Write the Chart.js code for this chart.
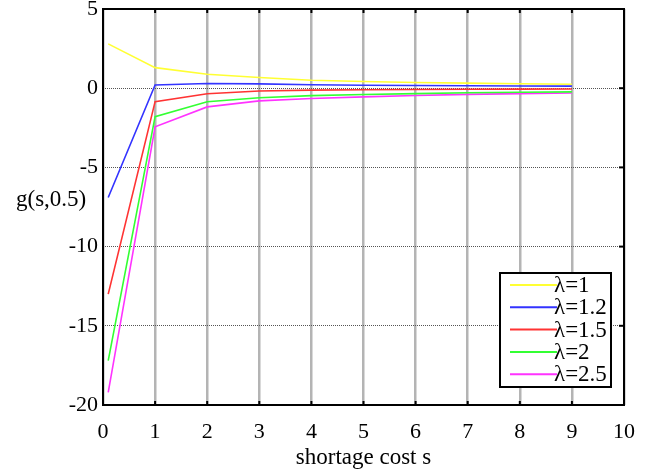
<!DOCTYPE html>
<html><head><meta charset="utf-8">
<script src="https://cdn.jsdelivr.net/npm/chart.js@4"></script>
<style>html,body{margin:0;padding:0;background:#fff}#wrap{width:655px;height:472px}</style>
</head><body><div id="wrap"><canvas id="c" width="655" height="472"></canvas></div>
<script>
const sValues = [0.1, 1, 2, 3, 4, 5, 6, 7, 8, 9];
const seriesLabels = ['λ=1', 'λ=1.2', 'λ=1.5', 'λ=2', 'λ=2.5'];
const g_l1   = [2.8, 1.3, 0.88, 0.68, 0.5, 0.42, 0.36, 0.32, 0.28, 0.25];
const g_l12  = [-6.9, 0.2, 0.3, 0.27, 0.22, 0.19, 0.17, 0.15, 0.14, 0.13];
const g_l15  = [-13.0, -0.85, -0.35, -0.18, -0.12, -0.1, -0.08, -0.07, -0.06, -0.05];
const g_l2   = [-17.2, -1.8, -0.86, -0.6, -0.47, -0.4, -0.34, -0.29, -0.26, -0.23];
const g_l25  = [-19.2, -2.44, -1.18, -0.8, -0.65, -0.55, -0.46, -0.39, -0.34, -0.3];
const xTicks = [0,1,2,3,4,5,6,7,8,9,10];
const yTicks = [5,0,-5,-10,-15,-20];
const colors = ['#ffff33', '#3333ff', '#ff3333', '#33ff33', '#ff33ff'];
const allSeries = [g_l1, g_l12, g_l15, g_l2, g_l25];

const FONT = '"Liberation Serif", "Times New Roman", serif';

const frame = {
  id: 'frame',
  afterDraw(chart) {
    const {ctx, chartArea: a} = chart;
    ctx.save();
    ctx.strokeStyle = '#000'; ctx.lineWidth = 2;
    const ys = chart.scales.y, xs = chart.scales.x;
    yTicks.forEach(v => {
      const y = ys.getPixelForValue(v);
      ctx.beginPath(); ctx.moveTo(a.right, y); ctx.lineTo(a.right - 5, y); ctx.stroke();
    });
    xTicks.forEach(v => {
      const x = xs.getPixelForValue(v);
      ctx.beginPath(); ctx.moveTo(x, a.top); ctx.lineTo(x, a.top + 4); ctx.stroke();
      ctx.beginPath(); ctx.moveTo(x, a.bottom); ctx.lineTo(x, a.bottom - 4); ctx.stroke();
    });
    ctx.strokeRect(a.left, a.top, a.right - a.left, a.bottom - a.top);
    ctx.fillStyle = '#000';
    ctx.font = '23px ' + FONT;
    ctx.textAlign = 'left'; ctx.textBaseline = 'middle';
    ctx.fillText('g(s,0.5)', 16, 200);
    // legend
    const lx = 500, ly = 273, lw = 111, lh = 114;
    ctx.fillStyle = '#fff';
    ctx.fillRect(lx, ly, lw, lh);
    ctx.strokeStyle = '#000'; ctx.lineWidth = 2;
    ctx.strokeRect(lx, ly, lw, lh);
    ctx.font = '23px ' + FONT;
    chart.data.datasets.forEach((ds, i) => {
      const y = ly + 12 + i * 22.3;
      ctx.strokeStyle = ds.borderColor; ctx.lineWidth = 2;
      ctx.beginPath(); ctx.moveTo(lx + 10, y); ctx.lineTo(lx + 57, y); ctx.stroke();
      ctx.fillStyle = '#000';
      ctx.fillText(ds.label, lx + 54, y + 1);
    });
    ctx.restore();
  }
};

new Chart(document.getElementById('c'), {
  type: 'line',
  data: {
    datasets: allSeries.map((vals, i) => ({
      label: seriesLabels[i],
      data: sValues.map((s, j) => ({x: s, y: vals[j]})),
      borderColor: colors[i],
      borderWidth: 1.6,
      pointRadius: 0,
      tension: 0,
      fill: false
    }))
  },
  options: {
    responsive: false,
    animation: false,
    layout: {padding: {left: 0, right: 31, top: 9, bottom: 0}},
    plugins: {legend: {display: false}, tooltip: {enabled: false}},
    scales: {
      x: {
        type: 'linear', min: 0, max: 10,
        afterBuildTicks: s => { s.ticks = xTicks.map(v => ({value: v})); },
        afterFit: s => { s.height = 67; s.paddingLeft = 0; s.paddingRight = 0; },
        ticks: {font: {family: FONT, size: 22}, color: '#000', padding: 14, maxRotation: 0},
        grid: {color: 'rgba(140,140,140,0.65)', lineWidth: 2.5, drawTicks: false},
        border: {display: false},
        title: {display: true, text: 'shortage cost s', font: {family: FONT, size: 23}, color: '#000', padding: {top: 0, bottom: 0}}
      },
      y: {
        type: 'linear', min: -20, max: 5,
        afterBuildTicks: s => { s.ticks = yTicks.map(v => ({value: v})); },
        afterFit: s => { s.width = 103; s.paddingTop = 0; s.paddingBottom = 0; },
        ticks: {font: {family: FONT, size: 22}, color: '#000', padding: 5},
        grid: {color: '#555', lineWidth: 1, drawTicks: false},
        border: {display: false, dash: [1, 1]}
      }
    }
  },
  plugins: [frame]
});
</script></body></html>
